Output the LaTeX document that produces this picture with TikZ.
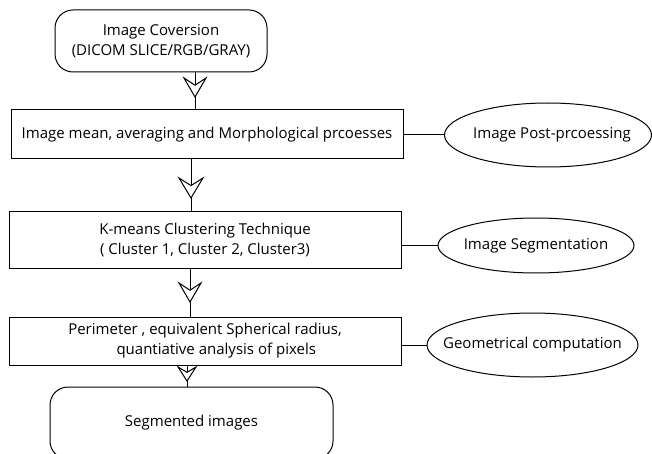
\documentclass[tikz,border=0pt]{standalone}
\usepackage{fontspec}
\setmainfont{Open Sans}
\usetikzlibrary{shapes.geometric}
\tikzset{
  box/.style={draw, line width=1pt, rectangle, inner sep=0pt, align=center, font=\fontsize{15}{20}\selectfont},
  rbox/.style={box, rounded corners=18pt},
  oval/.style={draw, line width=1pt, ellipse, inner sep=0pt, font=\fontsize{15}{18}\selectfont},
  link/.style={draw, line width=1pt},
  headshape/.style={draw, fill=white, line width=1pt, line join=miter},
}
\newcommand{\openhead}[3]{% tip coordinate, half width, length
  \draw[headshape] (#1) -- ++(-#2,-#3) -- ++(#2,0.38*#3) -- ++(#2,-0.38*#3) -- cycle;}
\newcommand{\ovaltext}[1]{\makebox[0pt][c]{#1}}
\begin{document}
\begin{tikzpicture}[x=1pt,y=-1pt]
\useasboundingbox (0,0) rectangle (652,454);
\node[rbox, minimum width=212pt, minimum height=62pt] (top) at (161,41) {Image Coversion\\(DICOM SLICE/RGB/GRAY)};
\node[box, minimum width=392pt, minimum height=49pt] (r1) at (207,134.5) {Image mean, averaging and Morphological prcoesses};
\node[box, minimum width=392pt, minimum height=57pt] (r2) at (205,239.5) {K-means Clustering Technique\\( Cluster 1, Cluster 2, Cluster3)};
\node[box, minimum width=392pt, minimum height=48pt] (r3) at (205,341) {Perimeter , equivalent Spherical radius,\\\hspace*{1.5em}quantiative analysis of pixels};
\node[rbox, minimum width=283pt, minimum height=72pt] (bot) at (191.5,423) {Segmented images};
\node[oval, minimum width=207pt, minimum height=64pt] (e1) at (548,135) {\ovaltext{\hspace*{8pt}Image Post-prcoessing}};
\node[oval, minimum width=196pt, minimum height=55pt] (e2) at (536,245.5) {\ovaltext{Image Segmentation}};
\node[oval, minimum width=211pt, minimum height=64pt] (e3) at (532.5,345) {\ovaltext{Geometrical computation}};
\coordinate (c1) at (195,0);
\coordinate (c2) at (191,0);
\coordinate (c3) at (190,0);
\coordinate (c4) at (187,0);
\coordinate (t1) at (195,97);
\coordinate (t2) at (191,198);
\coordinate (t3) at (190,302);
\coordinate (t4) at (187,381);
\draw[link] (top.south -| c1) -- (r1.north -| c1);
\draw[link] (r1.south -| c2) -- (r2.north -| c2);
\draw[link] (r2.south -| c3) -- (r3.north -| c3);
\draw[link] (r3.south -| c4) -- (bot.north -| c4);
\openhead{t1}{11}{19}
\openhead{t2}{12}{20}
\openhead{t3}{11}{19}
\openhead{t4}{9}{14}
\draw[link] (e1.west -| r1.east) -- (e1.west);
\draw[link] (e2.west -| r2.east) -- (e2.west);
\draw[link] (e3.west -| r3.east) -- (e3.west);
\end{tikzpicture}
\end{document}
